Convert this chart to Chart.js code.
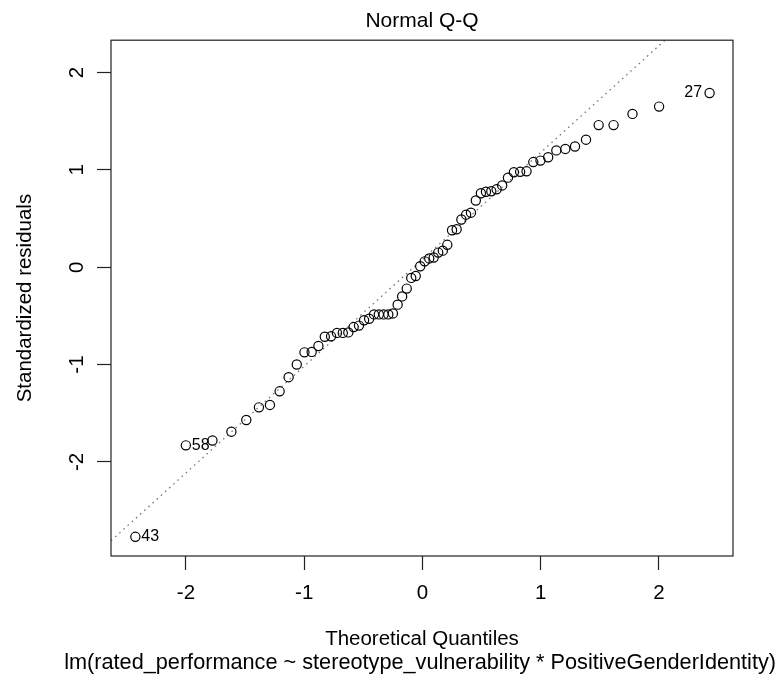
<!DOCTYPE html>
<html>
<head>
<meta charset="utf-8">
<script src="https://cdn.jsdelivr.net/npm/chart.js@4.4.1/dist/chart.umd.min.js"></script>
<style>
  html, body { margin: 0; padding: 0; background: #ffffff; }
  #wrap { width: 778px; height: 687px; }
</style>
</head>
<body>
<div id="wrap"><canvas id="c" width="778" height="687"></canvas></div>
<script>
// ---- data ----
const chartTitle = "Normal Q-Q";
const xAxisTitle = "Theoretical Quantiles";
const subCaption = "lm(rated_performance ~ stereotype_vulnerability * PositiveGenderIdentity)";
const yAxisTitle = "Standardized residuals";

// theoretical quantiles (x) of the 66 sorted points
const theoreticalQuantiles = [
  -2.428, -2.001, -1.776, -1.616, -1.490, -1.383, -1.290, -1.208, -1.132, -1.063,
  -0.998, -0.937, -0.880, -0.826, -0.773, -0.723, -0.674, -0.627, -0.582, -0.537,
  -0.494, -0.451, -0.410, -0.369, -0.329, -0.289, -0.250, -0.210, -0.172, -0.133,
  -0.095, -0.057, -0.019, 0.019, 0.057, 0.095, 0.133, 0.172, 0.210, 0.250,
  0.289, 0.329, 0.369, 0.410, 0.451, 0.494, 0.537, 0.582, 0.627, 0.674,
  0.723, 0.773, 0.826, 0.880, 0.937, 0.998, 1.063, 1.132, 1.208, 1.290,
  1.383, 1.490, 1.616, 1.776, 2.001, 2.428
];
// standardized residuals (y), sorted
const standardizedResiduals = [
  -2.77, -1.83, -1.78, -1.69, -1.57, -1.44, -1.415, -1.275, -1.13, -1.00,
  -0.875, -0.87, -0.81, -0.715, -0.71, -0.675, -0.675, -0.67, -0.615, -0.60,
  -0.545, -0.53, -0.485, -0.485, -0.485, -0.485, -0.475, -0.385, -0.30, -0.22,
  -0.11, -0.09, 0.01, 0.06, 0.09, 0.10, 0.15, 0.17, 0.23, 0.38,
  0.39, 0.49, 0.54, 0.56, 0.685, 0.76, 0.775, 0.78, 0.80, 0.84,
  0.92, 0.975, 0.98, 0.985, 1.08, 1.095, 1.13, 1.20, 1.215, 1.24,
  1.31, 1.46, 1.46, 1.575, 1.65, 1.79
];
// labelled observations: index into the sorted arrays, label text, side
const labelIndex = [0, 1, 65];
const labelText  = ["43", "58", "27"];
const labelSide  = ["right", "right", "left"];

// qq reference line
const qqIntercept = 0.081;
const qqSlope = 1.0975;

const xTicks = [-2, -1, 0, 1, 2];
const yTicks = [-2, -1, 0, 1, 2];
const xRange = [-2.634, 2.626];
const yRange = [-2.967, 2.332];

// ---- chart ----
const FONT = "'Liberation Sans', Arial, Helvetica, sans-serif";
Chart.defaults.color = '#000';
Chart.defaults.font.family = FONT;

const points = theoreticalQuantiles.map((x, i) => ({ x: x, y: standardizedResiduals[i] }));
const lineData = xRange.map(x => ({ x: x, y: qqIntercept + qqSlope * x }));

const boxPlugin = {
  id: 'rbox',
  afterDraw(chart) {
    const a = chart.chartArea, ctx = chart.ctx;
    ctx.save();
    ctx.strokeStyle = '#222';
    ctx.lineWidth = 1.2;
    ctx.strokeRect(a.left, a.top, a.right - a.left, a.bottom - a.top);
    ctx.restore();
  }
};

const pointLabelPlugin = {
  id: 'pointLabels',
  afterDatasetsDraw(chart) {
    const meta = chart.getDatasetMeta(1);
    const ctx = chart.ctx;
    ctx.save();
    ctx.font = "16px " + FONT;
    ctx.fillStyle = '#000';
    ctx.textBaseline = 'middle';
    labelIndex.forEach((idx, k) => {
      const el = meta.data[idx];
      if (!el) return;
      if (labelSide[k] === 'right') {
        ctx.textAlign = 'left';
        ctx.fillText(labelText[k], el.x + 6, el.y);
      } else {
        ctx.textAlign = 'right';
        ctx.fillText(labelText[k], el.x - 7.5, el.y);
      }
    });
    ctx.restore();
  }
};

new Chart(document.getElementById('c'), {
  data: {
    datasets: [
      {
        type: 'line',
        data: lineData,
        borderColor: '#7a7a7a',
        borderWidth: 1.3,
        borderDash: [1.6, 4],
        pointRadius: 0,
        fill: false,
        tension: 0,
        order: 2
      },
      {
        type: 'scatter',
        data: points,
        pointStyle: 'circle',
        pointRadius: 4.6,
        pointBorderWidth: 1.2,
        borderColor: '#000',
        backgroundColor: 'rgba(0,0,0,0)',
        clip: false,
        order: 1
      }
    ]
  },
  options: {
    responsive: false,
    devicePixelRatio: 1,
    animation: false,
    events: [],
    layout: { padding: { left: 0, right: 2, top: 0, bottom: 0 } },
    plugins: {
      legend: { display: false },
      tooltip: { enabled: false },
      title: {
        display: true,
        text: chartTitle,
        fullSize: false,
        color: '#000',
        font: { family: FONT, size: 21, weight: 'normal', lineHeight: 1.2 },
        padding: { top: 9, bottom: 6 }
      },
      subtitle: {
        display: true,
        text: subCaption,
        position: 'bottom',
        fullSize: true,
        align: 'end',
        color: '#000',
        font: { family: FONT, size: 21.7, weight: 'normal', lineHeight: 1 },
        padding: { top: 0, bottom: 13.3 }
      }
    },
    scales: {
      x: {
        type: 'linear',
        position: 'bottom',
        min: xRange[0],
        max: xRange[1],
        afterBuildTicks: s => { s.ticks = xTicks.map(v => ({ value: v })); },
        afterFit: s => { s.height = 96; },
        grid: { display: true, drawOnChartArea: false, drawTicks: true, tickLength: 14, tickColor: '#222', tickWidth: 1.2 },
        border: { display: false },
        ticks: {
          autoSkip: false, maxRotation: 0, minRotation: 0, padding: 11,
          color: '#000',
          font: { family: FONT, size: 20.5 },
          callback: v => String(v)
        },
        title: {
          display: true,
          text: xAxisTitle,
          color: '#000',
          font: { family: FONT, size: 20.5, lineHeight: 1.2 },
          padding: { top: 0, bottom: 0 }
        }
      },
      y: {
        type: 'linear',
        position: 'left',
        min: yRange[0],
        max: yRange[1],
        afterBuildTicks: s => { s.ticks = yTicks.map(v => ({ value: v })); },
        afterFit: s => { s.width = 111; },
        grid: { display: true, drawOnChartArea: false, drawTicks: true, tickLength: 14, tickColor: '#222', tickWidth: 1.2 },
        border: { display: false },
        ticks: {
          autoSkip: false, minRotation: 90, maxRotation: 90, padding: 11,
          crossAlign: 'center',
          color: '#000',
          font: { family: FONT, size: 20.5 },
          callback: v => String(v)
        },
        title: {
          display: true,
          text: yAxisTitle,
          color: '#000',
          font: { family: FONT, size: 20.5, lineHeight: 1.2 },
          padding: { top: 13, bottom: 0 }
        }
      },
      rightMargin: {
        type: 'linear',
        position: 'right',
        display: true,
        min: 0,
        max: 1,
        afterFit: s => { s.width = 43; },
        grid: { display: false, drawTicks: false },
        border: { display: false },
        ticks: { display: false },
        title: { display: false }
      }
    }
  },
  plugins: [boxPlugin, pointLabelPlugin]
});
</script>
</body>
</html>
